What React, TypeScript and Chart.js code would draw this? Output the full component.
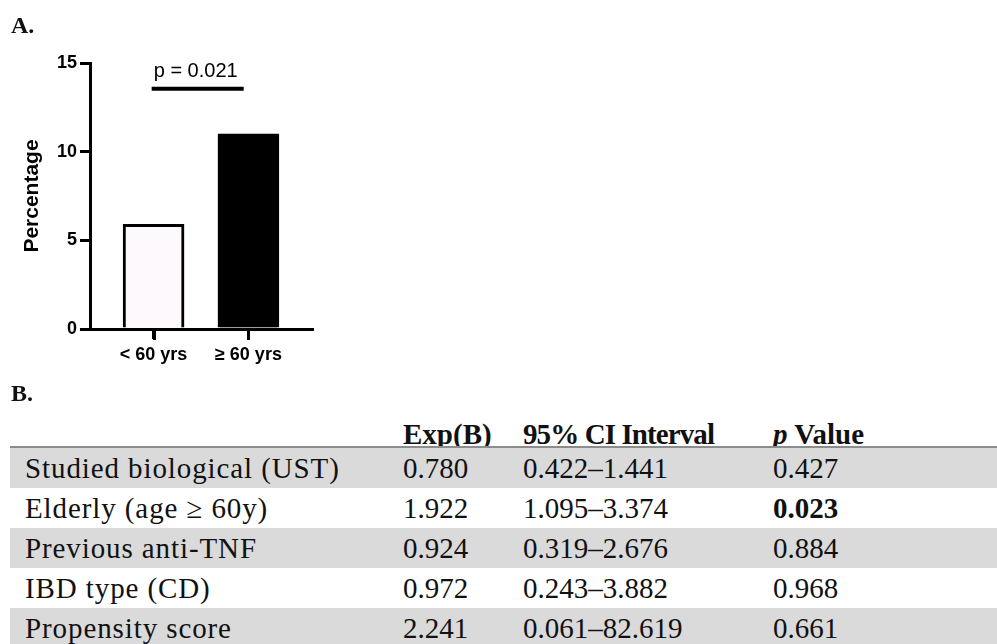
import React, { useEffect, useRef } from "react";
import { Chart, registerables } from "chart.js";

Chart.register(...registerables);

// ---- Panel A data ----
const categories = ["< 60 yrs", "\u2265 60 yrs"];
const categoryPositions = [0, 1];
const percentages = [5.9, 11];
const barColors = ["#fdf9fc", "#000000"];
const yTicks = [0, 5, 10, 15];
const pValueLabel = "p = 0.021";
const bracketStart = -0.02;
const bracketEnd = 0.95;
const bracketLevel = 13.55;
const pLabelLevel = 14.2;

// ---- Panel B data ----
const headers = ["Exp(B)", "95% CI Interval", "Value"];
const variables = [
  "Studied biological (UST)",
  "Elderly (age \u2265 60y)",
  "Previous anti-TNF",
  "IBD type (CD)",
  "Propensity score",
];
const expB = ["0.780", "1.922", "0.924", "0.972", "2.241"];
const ciIntervals = [
  "0.422\u20131.441",
  "1.095\u20133.374",
  "0.319\u20132.676",
  "0.243\u20133.882",
  "0.061\u201382.619",
];
const pValues = ["0.427", "0.023", "0.884", "0.968", "0.661"];
const significant = [false, true, false, false, false];

const SANS = '"Liberation Sans", Arial, sans-serif';
const SERIF = '"Liberation Serif", "Times New Roman", serif';

const sigPlugin = {
  id: "sigBracket",
  afterDraw(chart: any) {
    const { ctx, scales } = chart;
    const x = scales.x;
    const y = scales.y;
    ctx.save();
    // category tick marks below the x axis
    ctx.strokeStyle = "#000";
    ctx.lineWidth = 3;
    const base = y.getPixelForValue(0);
    categoryPositions.forEach((p) => {
      const px = Math.round(x.getPixelForValue(p)) + 0.5;
      ctx.beginPath();
      ctx.moveTo(px, base);
      ctx.lineTo(px, base + 11);
      ctx.stroke();
    });
    // significance bracket
    const x1 = x.getPixelForValue(bracketStart);
    const x2 = x.getPixelForValue(bracketEnd);
    const yy = y.getPixelForValue(bracketLevel);
    ctx.lineWidth = 4;
    ctx.beginPath();
    ctx.moveTo(x1, yy);
    ctx.lineTo(x2, yy);
    ctx.stroke();
    ctx.fillStyle = "#000";
    ctx.font = `20px ${SANS}`;
    ctx.textAlign = "center";
    ctx.textBaseline = "alphabetic";
    ctx.fillText(pValueLabel, (x1 + x2) / 2 - 2, y.getPixelForValue(pLabelLevel));
    ctx.restore();
  },
};

function BarPanel() {
  const ref = useRef<HTMLCanvasElement | null>(null);
  useEffect(() => {
    if (!ref.current) return;
    const chart = new Chart(ref.current, {
      type: "bar",
      data: {
        datasets: [
          {
            data: categoryPositions.map((p, i) => ({ x: p, y: percentages[i] })),
            backgroundColor: barColors,
            borderColor: "#000",
            borderWidth: 3,
            barThickness: 61,
          },
        ],
      },
      options: {
        responsive: false,
        animation: false,
        devicePixelRatio: 1,
        layout: { padding: { top: 63, right: 18, left: 0, bottom: 0 } },
        plugins: { legend: { display: false }, tooltip: { enabled: false } },
        scales: {
          x: {
            type: "linear",
            min: -0.67,
            max: 1.67,
            offset: false,
            bounds: "data",
            z: 1,
            afterBuildTicks: (axis: any) => {
              axis.ticks = categoryPositions.map((v) => ({ value: v }));
            },
            afterFit: (axis: any) => {
              axis.height = 51;
            },
            ticks: {
              callback: (_v: any, i: number) => categories[i],
              color: "#000",
              font: { family: SANS, size: 18, weight: "bold" },
              padding: 5,
              maxRotation: 0,
              autoSkip: false,
            },
            grid: {
              offset: false,
              drawOnChartArea: false,
              drawTicks: true,
              tickLength: 10,
              color: "#000",
              lineWidth: 3,
            },
            border: { display: true, color: "#000", width: 3 },
          },
          y: {
            min: 0,
            max: 15,
            z: 1,
            afterBuildTicks: (axis: any) => {
              axis.ticks = yTicks.map((v) => ({ value: v }));
            },
            afterFit: (axis: any) => {
              axis.width = 90;
            },
            ticks: {
              color: "#000",
              font: { family: SANS, size: 18, weight: "bold" },
              padding: 3,
            },
            grid: {
              drawOnChartArea: false,
              drawTicks: true,
              tickLength: 10,
              color: "#000",
              lineWidth: 3,
            },
            border: { display: true, color: "#000", width: 3 },
            title: {
              display: true,
              text: "Percentage",
              color: "#000",
              font: { family: SANS, size: 21, weight: "bold" },
              padding: { top: 20, bottom: 0 },
            },
          },
        },
      },
      plugins: [sigPlugin],
    } as any);
    return () => chart.destroy();
  }, []);
  return (
    <canvas
      ref={ref}
      width={330}
      height={380}
      style={{ position: "absolute", left: 0, top: 0 }}
    />
  );
}

const colX = [25, 403, 523, 773];
const ROW_TOP = 448;
const ROW_H = 40;

export default function App() {
  const cellBase: React.CSSProperties = {
    position: "absolute",
    fontFamily: SERIF,
    fontSize: 29,
    lineHeight: "40px",
    color: "#111",
    whiteSpace: "nowrap",
  };
  return (
    <div
      style={{
        position: "relative",
        width: 997,
        height: 644,
        overflow: "hidden",
        background: "#fff",
      }}
    >
      <style>{`html,body{margin:0;padding:0;overflow:hidden;background:#fff}`}</style>
      <BarPanel />
      <div
        style={{
          position: "absolute",
          left: 11,
          top: 13,
          fontFamily: SERIF,
          fontWeight: "bold",
          fontSize: 24,
          lineHeight: "24px",
          color: "#111",
        }}
      >
        A.
      </div>
      <div
        style={{
          position: "absolute",
          left: 11,
          top: 381,
          fontFamily: SERIF,
          fontWeight: "bold",
          fontSize: 24,
          lineHeight: "24px",
          color: "#111",
        }}
      >
        B.
      </div>

      {/* header */}
      <div style={{ ...cellBase, top: 414, left: colX[1], fontWeight: "bold" }}>{headers[0]}</div>
      <div style={{ ...cellBase, top: 414, left: colX[2], fontWeight: "bold", letterSpacing: "-0.9px" }}>
        {headers[1]}
      </div>
      <div style={{ ...cellBase, top: 414, left: colX[3], fontWeight: "bold" }}>
        <span style={{ fontStyle: "italic" }}>p</span> {headers[2]}
      </div>
      <div
        style={{
          position: "absolute",
          left: 10,
          top: 446,
          width: 987,
          height: 2,
          background: "#8c8c8c",
        }}
      />

      {variables.map((v, i) => (
        <div
          key={v}
          style={{
            position: "absolute",
            left: 10,
            top: ROW_TOP + i * ROW_H,
            width: 987,
            height: ROW_H,
            background: i % 2 === 0 ? "#dadada" : "#ffffff",
          }}
        >
          <div style={{ ...cellBase, top: 0, left: colX[0] - 10, letterSpacing: "0.9px" }}>{v}</div>
          <div style={{ ...cellBase, top: 0, left: colX[1] - 10 }}>{expB[i]}</div>
          <div style={{ ...cellBase, top: 0, left: colX[2] - 10 }}>{ciIntervals[i]}</div>
          <div
            style={{
              ...cellBase,
              top: 0,
              left: colX[3] - 10,
              fontWeight: significant[i] ? "bold" : "normal",
            }}
          >
            {pValues[i]}
          </div>
        </div>
      ))}
    </div>
  );
}
